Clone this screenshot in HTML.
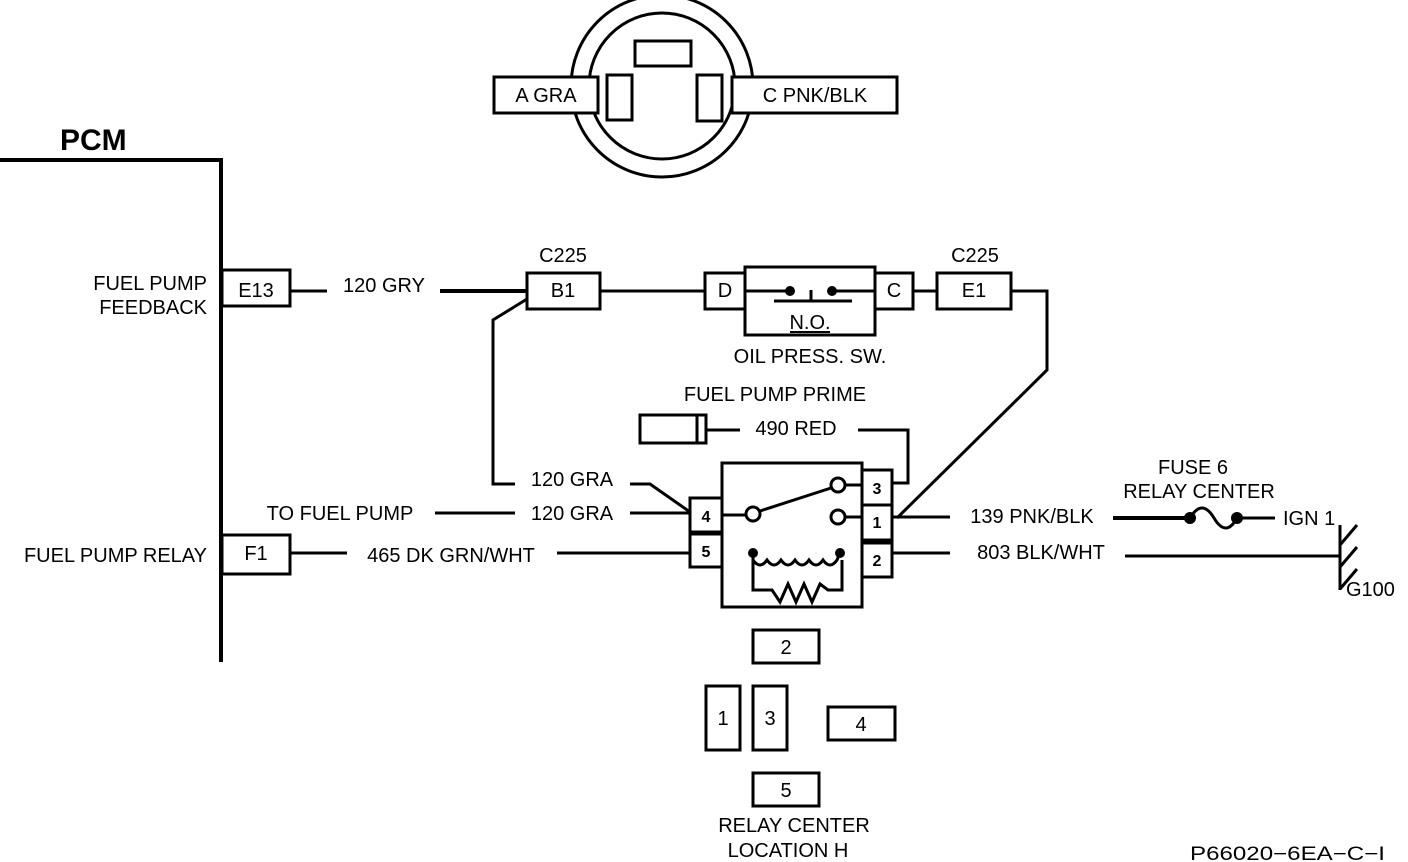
<!DOCTYPE html>
<html><head><meta charset="utf-8"><style>
html,body{margin:0;padding:0;background:#fff;}
svg{display:block;}
text{font-family:"Liberation Sans",sans-serif;font-size:20px;fill:#000;}
</style></head><body>
<svg width="1408" height="862" viewBox="0 0 1408 862" xmlns="http://www.w3.org/2000/svg">
<g fill="none" stroke="#000" stroke-width="3">
<circle cx="662" cy="86" r="91"/>
<circle cx="662" cy="86" r="73"/>
<rect x="635" y="41" width="56" height="25" fill="#fff"/>
<rect x="607" y="75" width="25" height="45" fill="#fff"/>
<rect x="697" y="75" width="25" height="46" fill="#fff"/>
<rect x="494" y="77" width="104" height="36" fill="#fff"/>
<rect x="732" y="77" width="165" height="36" fill="#fff"/>
<polyline points="0,160 221,160 221,662" stroke-width="4"/>
<rect x="222" y="270" width="68" height="36"/>
<rect x="222" y="535" width="68" height="39"/>
<line x1="290" y1="291" x2="327" y2="291"/>
<line x1="440" y1="291" x2="527" y2="291" stroke-width="4"/>
<rect x="527" y="273" width="73" height="36"/>
<line x1="600" y1="291" x2="705" y2="291"/>
<rect x="705" y="273" width="40" height="36"/>
<rect x="745" y="267" width="130" height="68"/>
<line x1="745" y1="291" x2="790" y2="291"/>
<line x1="832" y1="291" x2="875" y2="291"/>
<line x1="774" y1="301" x2="852" y2="301"/>
<line x1="811" y1="290" x2="811" y2="301"/>
<rect x="875" y="273" width="38" height="36"/>
<line x1="913" y1="291" x2="937" y2="291"/>
<rect x="937" y="273" width="74" height="36"/>
<polyline points="1011,291 1047,291 1047,370 897,518"/>
<polyline points="527,299 493,320 493,484 515,484"/>
<polyline points="630,484 650,484 690,512"/>
<rect x="640" y="415" width="66" height="28"/>
<line x1="697" y1="415" x2="697" y2="443"/>
<line x1="706" y1="430" x2="740" y2="430"/>
<polyline points="858,430 908,430 908,483 892,483"/>
<rect x="722" y="463" width="140" height="144"/>
<rect x="690" y="498" width="32" height="34"/>
<rect x="690" y="534" width="32" height="33"/>
<rect x="862" y="470" width="30" height="35"/>
<rect x="862" y="505" width="30" height="35"/>
<rect x="862" y="543" width="30" height="34"/>
<line x1="722" y1="515" x2="745" y2="515"/>
<circle cx="753" cy="514" r="7"/>
<line x1="760" y1="511" x2="831" y2="488"/>
<circle cx="838" cy="485" r="7"/>
<line x1="845" y1="485" x2="862" y2="485"/>
<circle cx="838" cy="517" r="7"/>
<line x1="845" y1="517" x2="862" y2="517"/>
<path d="M753,553 L753,560 q7,10 14,0 q7,10 14,0 q7,10 14,0 q7,10 14,0 q7,10 14,0 q7,10 14,0 L840,553"/>
<polyline points="753,560 753,590 772,590 780,602 788,584 796,602 804,584 812,602 820,584 828,590 842,590 842,560"/>
<line x1="630" y1="513" x2="690" y2="513"/>
<line x1="435" y1="513" x2="515" y2="513"/>
<line x1="290" y1="553" x2="347" y2="553"/>
<line x1="557" y1="553" x2="690" y2="553"/>
<line x1="892" y1="517" x2="950" y2="517"/>
<line x1="1113" y1="518" x2="1188" y2="518" stroke-width="4"/>
<path d="M1190,518 q12,-20 24,0 q12,20 23,0"/>
<line x1="1237" y1="518" x2="1275" y2="518"/>
<line x1="892" y1="553" x2="950" y2="553"/>
<line x1="1125" y1="556" x2="1340" y2="556"/>
<line x1="1340" y1="525" x2="1340" y2="590"/>
<line x1="1340" y1="545" x2="1357" y2="525"/>
<line x1="1340" y1="567" x2="1357" y2="547"/>
<line x1="1340" y1="589" x2="1357" y2="569"/>
<rect x="753" y="630" width="66" height="33"/>
<rect x="706" y="686" width="34" height="64"/>
<rect x="753" y="686" width="34" height="64"/>
<rect x="828" y="707" width="67" height="33"/>
<rect x="753" y="773" width="66" height="33"/>
</g>
<g fill="#000">
<circle cx="790" cy="291" r="5"/><circle cx="832" cy="291" r="5"/>
<circle cx="753" cy="553" r="5"/><circle cx="840" cy="553" r="5"/>
<circle cx="1190" cy="518" r="6"/><circle cx="1237" cy="518" r="6"/>
</g>
<text x="546" y="102" text-anchor="middle">A GRA</text>
<text x="815" y="102" text-anchor="middle">C PNK/BLK</text>
<text x="60" y="150" style="font-size:30px;font-weight:bold">PCM</text>
<text x="207" y="290" text-anchor="end">FUEL PUMP</text>
<text x="207" y="314" text-anchor="end">FEEDBACK</text>
<text x="256" y="297" text-anchor="middle">E13</text>
<text x="384" y="292" text-anchor="middle">120 GRY</text>
<text x="563" y="262" text-anchor="middle">C225</text>
<text x="563" y="297" text-anchor="middle">B1</text>
<text x="725" y="297" text-anchor="middle">D</text>
<text x="894" y="297" text-anchor="middle">C</text>
<text x="975" y="262" text-anchor="middle">C225</text>
<text x="974" y="297" text-anchor="middle">E1</text>
<text x="810" y="329" text-anchor="middle">N.O.</text>
<line x1="790" y1="332" x2="830" y2="332" stroke="#000" stroke-width="2"/>
<text x="810" y="363" text-anchor="middle">OIL PRESS. SW.</text>
<text x="775" y="401" text-anchor="middle">FUEL PUMP PRIME</text>
<text x="796" y="435" text-anchor="middle">490 RED</text>
<text x="572" y="486" text-anchor="middle">120 GRA</text>
<text x="340" y="520" text-anchor="middle">TO FUEL PUMP</text>
<text x="572" y="520" text-anchor="middle">120 GRA</text>
<text x="207" y="562" text-anchor="end">FUEL PUMP RELAY</text>
<text x="256" y="560" text-anchor="middle">F1</text>
<text x="451" y="562" text-anchor="middle">465 DK GRN/WHT</text>
<text x="706" y="522" text-anchor="middle" style="font-size:16px;font-weight:bold">4</text>
<text x="706" y="557" text-anchor="middle" style="font-size:16px;font-weight:bold">5</text>
<text x="877" y="494" text-anchor="middle" style="font-size:16px;font-weight:bold">3</text>
<text x="877" y="528" text-anchor="middle" style="font-size:16px;font-weight:bold">1</text>
<text x="877" y="566" text-anchor="middle" style="font-size:16px;font-weight:bold">2</text>
<text x="1032" y="523" text-anchor="middle">139 PNK/BLK</text>
<text x="1041" y="559" text-anchor="middle">803 BLK/WHT</text>
<text x="1193" y="474" text-anchor="middle">FUSE 6</text>
<text x="1199" y="498" text-anchor="middle">RELAY CENTER</text>
<text x="1283" y="525">IGN 1</text>
<text x="1346" y="596">G100</text>
<text x="786" y="654" text-anchor="middle">2</text>
<text x="723" y="725" text-anchor="middle">1</text>
<text x="770" y="725" text-anchor="middle">3</text>
<text x="861" y="731" text-anchor="middle">4</text>
<text x="786" y="797" text-anchor="middle">5</text>
<text x="794" y="832" text-anchor="middle">RELAY CENTER</text>
<text x="788" y="857" text-anchor="middle">LOCATION H</text>
<text x="1190" y="860" textLength="195" lengthAdjust="spacingAndGlyphs" style="font-size:19px">P66020−6EA−C−I</text>
</svg>
</body></html>
